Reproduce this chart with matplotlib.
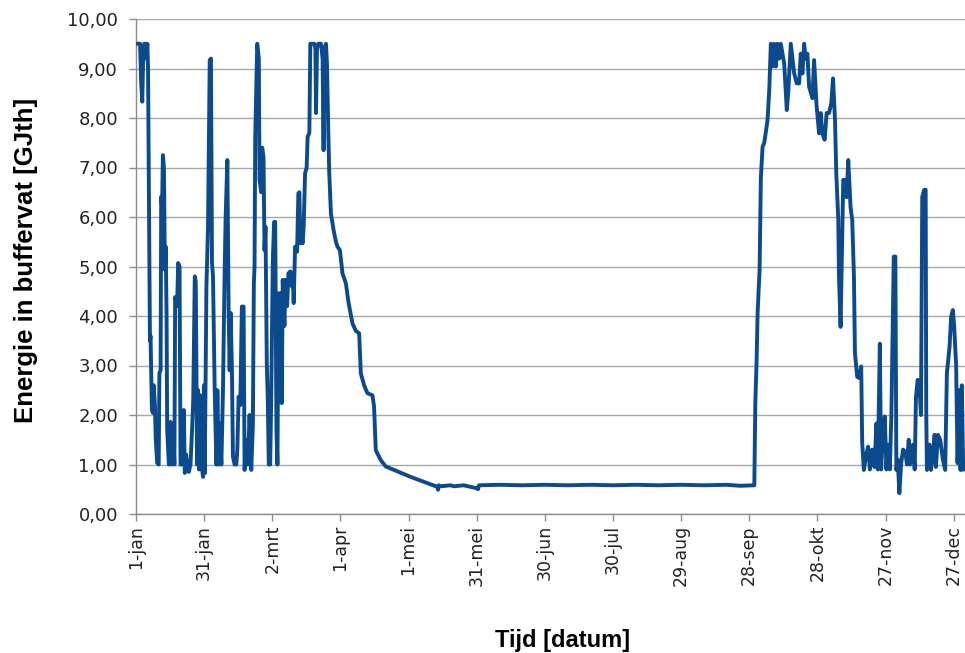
import matplotlib
matplotlib.use("Agg")
import numpy as np
from matplotlib import pyplot as plt

# energy stored in the buffer vessel over one year, day of year vs GJth
days = [
    0.5, 1.0, 1.8, 2.3, 2.76, 3.2, 3.6, 4.2, 4.6, 5.0, 5.3, 6.14, 6.4, 6.71, 7.0, 7.46, 7.8, 8.33, 8.7, 9.34,
    10.0, 10.3, 10.83, 11.1, 11.5, 11.84, 12.3, 12.72, 13.1, 13.46, 13.73, 14.47, 15.22, 15.66, 16.36, 16.9,
    17.24, 17.8, 18.11, 18.55, 19.17, 19.61, 20.31, 21.05, 21.49, 22.06, 22.6, 23.25, 23.99, 24.69, 25.2,
    25.88, 26.3, 26.6, 26.89, 27.32, 27.76, 28.2, 28.64, 29.1, 29.52, 29.9, 30.26, 31.01, 31.71, 32.46, 33.0,
    33.46, 33.9, 34.65, 35.39, 35.83, 36.4, 36.84, 37.59, 38.29, 39.04, 39.47, 40.22, 40.79, 41.23, 41.67,
    42.24, 42.68, 43.42, 44.17, 44.61, 45.18, 45.92, 46.62, 47.37, 47.81, 48.55, 49.25, 50.0, 50.75, 51.45,
    51.89, 52.19, 52.5, 53.38, 54.08, 54.39, 55.13, 55.57, 56.14, 56.58, 57.02, 57.59, 58.03, 58.46, 59.08,
    59.52, 60.22, 60.8, 61.3, 61.84, 62.28, 62.72, 63.29, 63.73, 64.17, 64.61, 65.35, 65.79, 66.54, 67.11,
    67.98, 68.55, 68.99, 69.43, 70.04, 70.92, 71.49, 71.93, 72.37, 72.94, 73.38, 73.82, 74.43, 75.13, 75.57,
    76.32, 76.75, 78.51, 79.0, 79.25, 79.69, 80.26, 81.45, 82.15, 82.59, 82.89, 83.64, 84.08, 84.65, 85.09,
    85.83, 86.97, 88.03, 88.73, 89.78, 90.92, 92.41, 93.42, 93.86, 95.31, 96.8, 98.25, 98.99, 100.44,
    101.89, 104.08, 104.82, 105.57, 107.76, 109.96, 120.92, 132.59, 133.0, 133.3, 134.1, 138.5, 140.0,
    144.3, 150.13, 150.6, 151.0, 160.0, 170.0, 180.0, 190.0, 200.0, 210.0, 220.0, 230.0, 240.0, 250.0,
    260.0, 266.0, 272.24,
    272.68, 273.25, 273.68, 274.56, 275.13, 275.88, 276.62, 278.07, 278.82, 279.52, 280.26, 281.01, 281.71,
    282.46, 283.2, 283.9, 285.39, 286.54, 287.15, 288.29, 289.78, 290.92, 291.97, 292.68, 293.42, 294.17,
    294.87, 295.61, 296.36, 297.81, 298.55, 299.69, 300.75, 301.45, 302.19, 303.2, 304.08, 305.13, 306.14,
    306.89, 307.76, 308.33, 309.21, 309.52, 310.22, 310.66, 311.4, 312.41, 312.85, 313.6, 314.61, 315.35,
    316.1, 316.54, 317.54, 318.29, 319.3, 319.74, 320.48, 321.49, 322.37, 323.11, 324.12, 325.13, 326.01,
    326.62, 327.5, 328.07, 328.82, 329.69, 330.39, 331.01, 331.89, 332.59, 333.64, 334.34, 334.78, 335.39,
    336.1, 336.84, 337.72, 338.73, 339.47, 340.22, 340.79, 342.11, 342.85, 343.42, 344.17, 345.04, 345.61,
    346.18, 347.06, 347.68, 347.94, 348.25, 349.43, 350.0, 350.88, 351.62, 352.19, 353.07, 354.08, 355.26,
    356.27, 357.02, 358.2, 358.9, 359.65, 360.22, 361.1, 361.71, 362.41, 363.03, 363.6, 364.2,
]
energy = [
    9.5, 9.5, 9.5, 8.7, 8.33, 9.3, 9.5, 9.5, 9.2, 9.5, 9.0, 3.5, 3.6, 2.85, 2.1, 2.04, 2.6, 2.2, 1.5, 1.03,
    1.0, 2.85, 2.9, 6.41, 6.2, 7.25, 7.0, 4.93, 5.4, 4.0, 1.7, 1.0, 1.86, 1.0, 1.8, 1.0,
    4.38, 4.3, 4.2, 5.07, 5.0, 1.0, 1.0, 2.1, 0.83, 1.2, 1.0, 0.85, 1.0, 1.7, 2.3,
    4.8, 4.7, 3.0, 1.0, 2.5, 0.9, 2.4, 1.0, 0.9, 0.75, 2.6, 0.82, 4.6, 5.8, 9.17, 9.2,
    5.07, 4.8, 2.5, 1.0, 2.5, 1.0, 1.83, 1.0, 2.5, 4.93, 6.0, 7.15, 4.06, 2.9, 4.06,
    2.9, 1.16, 1.0, 1.0, 1.3, 2.37, 2.2, 4.19, 4.19, 0.89, 1.5, 1.0, 2.0, 0.89, 1.8,
    4.66, 5.0, 7.62, 9.5, 9.2, 6.75, 6.5, 7.4, 7.2, 5.33, 5.8, 3.05, 2.3, 1.0, 1.0,
    2.3, 5.07, 5.9, 5.9, 1.7, 1.0, 4.46, 3.3, 4.46, 2.24, 4.73, 3.8, 4.73, 4.2, 4.86,
    4.9, 4.6, 4.86, 4.26, 5.4, 5.3, 6.48, 6.5, 5.47, 5.6, 5.47, 5.8, 6.88, 7.0, 7.62,
    7.7, 9.5, 9.5, 9.4, 8.1, 9.4, 9.5, 9.5, 9.2, 7.35, 9.4, 9.5, 9.1, 7.76, 6.88,
    6.07, 5.74, 5.5, 5.4, 5.33, 4.86, 4.66, 4.32, 4.2, 3.85, 3.7, 3.65, 2.84, 2.6,
    2.44, 2.4, 2.17, 1.29, 1.09, 0.96, 0.75, 0.55, 0.49, 0.58, 0.56, 0.58, 0.56,
    0.58, 0.52, 0.5, 0.58, 0.59, 0.58, 0.59, 0.58, 0.59, 0.58, 0.59, 0.58, 0.59, 0.58,
    0.59, 0.57, 0.58,
    2.24, 3.1, 4.06, 4.93, 6.81, 7.42, 7.5, 7.96, 8.57, 9.5, 9.04, 9.5, 9.04,
    9.5, 9.2, 9.5, 9.1, 8.16, 8.5, 9.5, 8.9, 8.7, 8.7, 9.3, 8.9, 9.5,
    9.2, 9.3, 8.63, 8.4, 9.17, 8.23, 7.69, 8.1, 7.69, 7.56, 8.1, 8.1, 8.3,
    8.8, 7.96, 6.88, 5.94, 4.8, 3.78, 4.9, 6.75, 6.75, 6.4, 7.15, 6.2, 5.94,
    4.8, 3.25, 2.77, 2.75, 2.98, 1.43, 0.89, 1.2, 1.36, 0.9, 1.3, 0.95, 1.83,
    0.9, 3.44, 0.9, 1.6, 1.97, 0.9, 1.4, 0.9, 2.0, 5.2, 5.2, 0.89, 1.1,
    0.42, 1.0, 1.3, 1.25, 1.0, 1.5, 1.0, 1.4, 0.9, 2.37, 2.71, 2.5, 2.0,
    6.41, 6.55, 6.55, 2.04, 0.89, 1.4, 0.89, 1.2, 1.6, 0.95, 1.6, 1.5, 1.1,
    0.89, 2.84, 3.38, 3.99, 4.12, 3.8, 3.0, 1.03, 2.5, 0.89, 2.6, 0.9,
]

x_ticks = [0, 30, 60, 90, 120, 150, 180, 210, 240, 270, 300, 330, 360]
x_labels = ["1-jan", "31-jan", "2-mrt", "1-apr", "1-mei", "31-mei", "30-jun",
            "30-jul", "29-aug", "28-sep", "28-okt", "27-nov", "27-dec"]
y_ticks = np.arange(0, 11, 1)
y_labels = ["0,00", "1,00", "2,00", "3,00", "4,00", "5,00", "6,00",
            "7,00", "8,00", "9,00", "10,00"]

fig = plt.figure(figsize=(9.65, 6.53), dpi=100)
ax = fig.add_axes([136 / 965, 139 / 653, 829 / 965, 495 / 653])

ax.plot(days, energy, color="#0b4a8c", lw=2.8, solid_joinstyle="round", zorder=3)

ax.set_xlim(0, 365)
ax.set_ylim(0, 10)
ax.set_xticks(x_ticks)
ax.set_xticklabels(x_labels, rotation=90, fontsize=12.5, family="DejaVu Sans", color="#222222")
ax.set_yticks(y_ticks)
ax.set_yticklabels(y_labels, fontsize=13, family="DejaVu Sans", color="#222222")

ax.grid(axis="y", color="#a8a8a8", lw=1.0, zorder=0)
ax.set_axisbelow(True)
for side in ["top", "right"]:
    ax.spines[side].set_visible(False)
for side in ["left", "bottom"]:
    ax.spines[side].set_color("#8c8c8c")
    ax.spines[side].set_linewidth(1.0)
ax.tick_params(axis="y", color="#8c8c8c", length=5, width=1.0, pad=8)
ax.tick_params(axis="x", color="#8c8c8c", length=5, width=1.0, pad=3)

# axis titles placed in figure coordinates
fig.text(26 / 965, 1 - 260 / 653, "Energie in buffervat [GJth]", rotation=90,
         ha="center", va="center", fontsize=18.5, fontweight="bold", family="Liberation Sans")
fig.text(563 / 965, 1 - 640 / 653, "Tijd [datum]",
         ha="center", va="center", fontsize=17, fontweight="bold", family="Liberation Sans")

fig.savefig("out.png", dpi=100)
